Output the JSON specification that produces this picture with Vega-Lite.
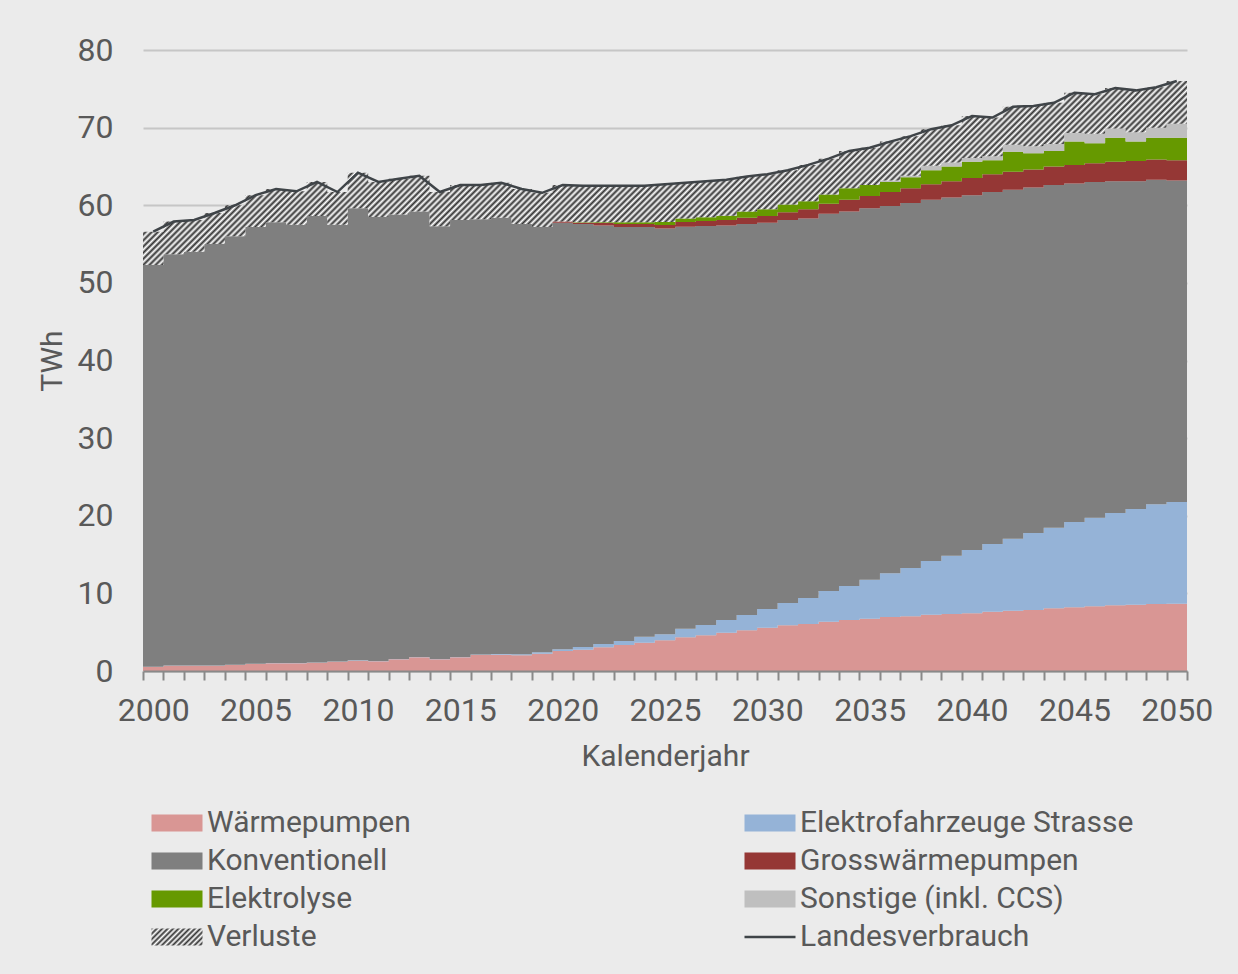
{
"$schema":"https://vega.github.io/schema/vega-lite/v6.json",
"width":1044,"height":621,
"autosize":{"type":"none"},
"padding":{"left":143,"top":50,"right":51,"bottom":303},
"background":"#ebebeb",
"datasets":{
"jahre":[
{"Jahr":2000,"WP":0.52,"EF":0.03,"KV":51.75,"GWP":0,"EL":0,"SO":0,"VL":4.3,"LV":56.6},
{"Jahr":2001,"WP":0.69,"EF":0.03,"KV":52.98,"GWP":0,"EL":0,"SO":0,"VL":4.2,"LV":57.9},
{"Jahr":2002,"WP":0.69,"EF":0.03,"KV":53.28,"GWP":0,"EL":0,"SO":0,"VL":4.1,"LV":58.1},
{"Jahr":2003,"WP":0.69,"EF":0.03,"KV":54.28,"GWP":0,"EL":0,"SO":0,"VL":4.0,"LV":59.0},
{"Jahr":2004,"WP":0.77,"EF":0.03,"KV":55.2,"GWP":0,"EL":0,"SO":0,"VL":4.0,"LV":60.0},
{"Jahr":2005,"WP":0.9,"EF":0.03,"KV":56.27,"GWP":0,"EL":0,"SO":0,"VL":4.1,"LV":61.3},
{"Jahr":2006,"WP":0.99,"EF":0.03,"KV":56.78,"GWP":0,"EL":0,"SO":0,"VL":4.3,"LV":62.1},
{"Jahr":2007,"WP":0.99,"EF":0.03,"KV":56.48,"GWP":0,"EL":0,"SO":0,"VL":4.3,"LV":61.8},
{"Jahr":2008,"WP":1.07,"EF":0.03,"KV":57.5,"GWP":0,"EL":0,"SO":0,"VL":4.4,"LV":63.0},
{"Jahr":2009,"WP":1.2,"EF":0.03,"KV":56.27,"GWP":0,"EL":0,"SO":0,"VL":4.2,"LV":61.7},
{"Jahr":2010,"WP":1.33,"EF":0.05,"KV":58.22,"GWP":0,"EL":0,"SO":0,"VL":4.6,"LV":64.2},
{"Jahr":2011,"WP":1.25,"EF":0.05,"KV":57.2,"GWP":0,"EL":0,"SO":0,"VL":4.5,"LV":63.0},
{"Jahr":2012,"WP":1.5,"EF":0.05,"KV":57.25,"GWP":0,"EL":0,"SO":0,"VL":4.6,"LV":63.4},
{"Jahr":2013,"WP":1.76,"EF":0.05,"KV":57.39,"GWP":0,"EL":0,"SO":0,"VL":4.6,"LV":63.8},
{"Jahr":2014,"WP":1.5,"EF":0.05,"KV":55.75,"GWP":0,"EL":0,"SO":0,"VL":4.4,"LV":61.7},
{"Jahr":2015,"WP":1.76,"EF":0.05,"KV":56.29,"GWP":0,"EL":0,"SO":0,"VL":4.5,"LV":62.6},
{"Jahr":2016,"WP":2.06,"EF":0.05,"KV":56.09,"GWP":0,"EL":0,"SO":0,"VL":4.4,"LV":62.6},
{"Jahr":2017,"WP":2.1,"EF":0.1,"KV":56.2,"GWP":0,"EL":0,"SO":0,"VL":4.5,"LV":62.9},
{"Jahr":2018,"WP":2.02,"EF":0.15,"KV":55.43,"GWP":0,"EL":0,"SO":0,"VL":4.5,"LV":62.1},
{"Jahr":2019,"WP":2.23,"EF":0.2,"KV":54.77,"GWP":0,"EL":0,"SO":0,"VL":4.4,"LV":61.6},
{"Jahr":2020,"WP":2.58,"EF":0.22,"KV":54.95,"GWP":0.15,"EL":0,"SO":0,"VL":4.7,"LV":62.6},
{"Jahr":2021,"WP":2.75,"EF":0.34,"KV":54.51,"GWP":0.15,"EL":0.05,"SO":0,"VL":4.7,"LV":62.5},
{"Jahr":2022,"WP":3.05,"EF":0.43,"KV":53.92,"GWP":0.3,"EL":0.1,"SO":0,"VL":4.7,"LV":62.5},
{"Jahr":2023,"WP":3.35,"EF":0.51,"KV":53.34,"GWP":0.4,"EL":0.2,"SO":0,"VL":4.7,"LV":62.5},
{"Jahr":2024,"WP":3.65,"EF":0.75,"KV":52.8,"GWP":0.4,"EL":0.2,"SO":0,"VL":4.7,"LV":62.5},
{"Jahr":2025,"WP":3.95,"EF":0.8,"KV":52.25,"GWP":0.45,"EL":0.4,"SO":0,"VL":4.85,"LV":62.7},
{"Jahr":2026,"WP":4.34,"EF":1.11,"KV":51.79,"GWP":0.6,"EL":0.46,"SO":0,"VL":4.6,"LV":62.9},
{"Jahr":2027,"WP":4.59,"EF":1.34,"KV":51.4,"GWP":0.64,"EL":0.48,"SO":0,"VL":4.65,"LV":63.1},
{"Jahr":2028,"WP":4.94,"EF":1.63,"KV":50.83,"GWP":0.7,"EL":0.56,"SO":0,"VL":4.64,"LV":63.3},
{"Jahr":2029,"WP":5.24,"EF":1.97,"KV":50.39,"GWP":0.8,"EL":0.8,"SO":0,"VL":4.5,"LV":63.7},
{"Jahr":2030,"WP":5.58,"EF":2.41,"KV":49.76,"GWP":0.85,"EL":0.9,"SO":0,"VL":4.5,"LV":64.0},
{"Jahr":2031,"WP":5.88,"EF":2.88,"KV":49.34,"GWP":1.0,"EL":1.0,"SO":0,"VL":4.4,"LV":64.5},
{"Jahr":2032,"WP":6.05,"EF":3.35,"KV":48.9,"GWP":1.2,"EL":1.0,"SO":0,"VL":4.7,"LV":65.2},
{"Jahr":2033,"WP":6.35,"EF":3.95,"KV":48.6,"GWP":1.3,"EL":1.2,"SO":0,"VL":4.6,"LV":66.0},
{"Jahr":2034,"WP":6.57,"EF":4.38,"KV":48.25,"GWP":1.5,"EL":1.5,"SO":0,"VL":4.8,"LV":67.0},
{"Jahr":2035,"WP":6.74,"EF":5.02,"KV":47.84,"GWP":1.6,"EL":1.4,"SO":0,"VL":4.8,"LV":67.4},
{"Jahr":2036,"WP":6.96,"EF":5.62,"KV":47.32,"GWP":1.8,"EL":1.3,"SO":0.2,"VL":5.0,"LV":68.2},
{"Jahr":2037,"WP":7.04,"EF":6.23,"KV":47.03,"GWP":1.9,"EL":1.4,"SO":0.2,"VL":5.1,"LV":68.9},
{"Jahr":2038,"WP":7.26,"EF":6.91,"KV":46.53,"GWP":2.0,"EL":1.8,"SO":0.6,"VL":4.7,"LV":69.8},
{"Jahr":2039,"WP":7.34,"EF":7.52,"KV":46.14,"GWP":2.1,"EL":1.9,"SO":0.5,"VL":4.8,"LV":70.3},
{"Jahr":2040,"WP":7.43,"EF":8.16,"KV":45.71,"GWP":2.2,"EL":2.1,"SO":0.5,"VL":5.4,"LV":71.5},
{"Jahr":2041,"WP":7.64,"EF":8.72,"KV":45.34,"GWP":2.3,"EL":1.8,"SO":0.5,"VL":5.0,"LV":71.3},
{"Jahr":2042,"WP":7.77,"EF":9.28,"KV":44.95,"GWP":2.3,"EL":2.6,"SO":0.9,"VL":4.9,"LV":72.7},
{"Jahr":2043,"WP":7.86,"EF":9.92,"KV":44.52,"GWP":2.3,"EL":2.1,"SO":0.9,"VL":5.2,"LV":72.8},
{"Jahr":2044,"WP":8.07,"EF":10.39,"KV":44.14,"GWP":2.4,"EL":2.0,"SO":0.9,"VL":5.3,"LV":73.2},
{"Jahr":2045,"WP":8.2,"EF":10.99,"KV":43.61,"GWP":2.4,"EL":3.0,"SO":1.1,"VL":5.2,"LV":74.5},
{"Jahr":2046,"WP":8.33,"EF":11.42,"KV":43.25,"GWP":2.4,"EL":2.6,"SO":1.2,"VL":5.1,"LV":74.3},
{"Jahr":2047,"WP":8.46,"EF":11.89,"KV":42.75,"GWP":2.5,"EL":3.1,"SO":1.2,"VL":5.2,"LV":75.1},
{"Jahr":2048,"WP":8.54,"EF":12.33,"KV":42.23,"GWP":2.6,"EL":2.5,"SO":1.2,"VL":5.4,"LV":74.8},
{"Jahr":2049,"WP":8.63,"EF":12.84,"KV":41.83,"GWP":2.6,"EL":2.8,"SO":1.3,"VL":5.2,"LV":75.2},
{"Jahr":2050,"WP":8.67,"EF":13.1,"KV":41.43,"GWP":2.6,"EL":2.9,"SO":1.8,"VL":5.5,"LV":76.0}
],
"serien":[
{"key":"WP","rang":1,"name":"Wärmepumpen"},
{"key":"EF","rang":2,"name":"Elektrofahrzeuge Strasse"},
{"key":"KV","rang":3,"name":"Konventionell"},
{"key":"GWP","rang":4,"name":"Grosswärmepumpen"},
{"key":"EL","rang":5,"name":"Elektrolyse"},
{"key":"SO","rang":6,"name":"Sonstige (inkl. CCS)"},
{"key":"VL","rang":7,"name":"Verluste"}
]
},
"data":{"name":"jahre"},
"layer":[
{
"transform":[
{"fold":["WP","EF","KV","GWP","EL","SO","VL"],"as":["key","wert"]},
{"lookup":"key","from":{"data":{"name":"serien"},"key":"key","fields":["rang","name"]}},
{"stack":"wert","groupby":["Jahr"],"sort":[{"field":"rang","order":"ascending"}],"as":["y0","y1"]},
{"bin":{"step":1,"extent":[2000,2051]},"field":"Jahr","as":["xa","xb"]},
{"fold":["xa","xb"],"as":["kante","x"]}
],
"layer":[
{
"transform":[{"filter":"datum.name !== 'Verluste'"}],
"mark":{"type":"area","interpolate":"linear"},
"encoding":{
"x":{"field":"x","type":"quantitative","title":"Kalenderjahr","scale":{"domain":[2000,2051],"nice":false,"zero":false},
"axis":{"values":[2000,2001,2002,2003,2004,2005,2006,2007,2008,2009,2010,2011,2012,2013,2014,2015,2016,2017,2018,2019,2020,2021,2022,2023,2024,2025,2026,2027,2028,2029,2030,2031,2032,2033,2034,2035,2036,2037,2038,2039,2040,2041,2042,2043,2044,2045,2046,2047,2048,2049,2050,2051],
"format":"d","labelExpr":"datum.value % 5 === 0 ? datum.label : ''","labelOffset":10.24,"labelOverlap":false,"labelFlush":false,"labelBound":false,
"tickSize":9,"tickColor":"#898989","tickWidth":2,"domainColor":"#898989","domainWidth":2,"labelPadding":15,"titlePadding":15,"grid":false,"zindex":1,"labelFontSize":32,"titleFontSize":30}},
"y":{"field":"y1","type":"quantitative","title":"TWh","stack":null,"scale":{"domain":[0,80],"nice":false},
"axis":{"values":[0,10,20,30,40,50,60,70,80],"grid":true,"gridColor":"#c6c6c6","gridWidth":2,"domain":false,"ticks":false,"tickSize":0,"labelPadding":30,"titlePadding":10,"labelFontSize":32,"titleFontSize":30}},
"y2":{"field":"y0"},
"order":[{"field":"x","type":"quantitative"},{"field":"kante","type":"ordinal","sort":"descending"}],
"color":{"field":"name","type":"nominal",
"scale":{"domain":["Wärmepumpen","Elektrofahrzeuge Strasse","Konventionell","Grosswärmepumpen","Elektrolyse","Sonstige (inkl. CCS)","Verluste","Landesverbrauch"],
"range":["#d99694","#95b3d7","#7f7f7f","#953735","#669900","#bfbfbf",
{"expr":"{gradient:'linear',x1:0,y1:0,x2:1.2,y2:0.4,stops:[{offset:0,color:'#333'},{offset:0.04,color:'#fff'},{offset:0.08,color:'#333'},{offset:0.12,color:'#fff'},{offset:0.16,color:'#333'},{offset:0.2,color:'#fff'},{offset:0.24,color:'#333'},{offset:0.28,color:'#fff'},{offset:0.32,color:'#333'},{offset:0.36,color:'#fff'},{offset:0.4,color:'#333'},{offset:0.44,color:'#fff'},{offset:0.48,color:'#333'},{offset:0.52,color:'#fff'},{offset:0.56,color:'#333'},{offset:0.6,color:'#fff'},{offset:0.64,color:'#333'},{offset:0.68,color:'#fff'},{offset:0.72,color:'#333'},{offset:0.76,color:'#fff'},{offset:0.8,color:'#333'},{offset:0.84,color:'#fff'},{offset:0.88,color:'#333'},{offset:0.92,color:'#fff'},{offset:0.96,color:'#333'},{offset:1,color:'#fff'}]}"},
"#3f4448"]},
"legend":{"orient":"none","direction":"horizontal","legendX":19,"legendY":758,"columns":2,"columnPadding":328,"rowPadding":8,"title":null,"padding":0,
"symbolSize":289,"symbolType":"M-3,-1H3V1H-3Z","symbolStrokeWidth":2.5,"labelFontSize":30,"labelColor":"#595959","labelOffset":15,"labelLimit":600,
"encode":{"symbols":{"update":{
"shape":[{"test":"datum.value === 'Landesverbrauch'","value":"M-3,0H3"},{"value":"M-3,-1H3V1H-3Z"}],
"stroke":[{"test":"datum.value === 'Landesverbrauch'","value":"#3f4448"},{"value":"transparent"}],
"strokeWidth":{"value":2.5},
"opacity":{"value":1}
}}}}}
}
},
{
"transform":[{"filter":"datum.name === 'Verluste'"}],
"mark":{"type":"area","interpolate":"linear","color":{"gradient":"linear","x1":0,"y1":0,"x2":1.1408,"y2":0.201,"stops":[
{"offset":0,"color":"#333"},{"offset":0.0025,"color":"#fff"},{"offset":0.005,"color":"#333"},{"offset":0.0075,"color":"#fff"},
{"offset":0.01,"color":"#333"},{"offset":0.0125,"color":"#fff"},{"offset":0.015,"color":"#333"},{"offset":0.0175,"color":"#fff"},
{"offset":0.02,"color":"#333"},{"offset":0.0225,"color":"#fff"},{"offset":0.025,"color":"#333"},{"offset":0.0275,"color":"#fff"},
{"offset":0.03,"color":"#333"},{"offset":0.0325,"color":"#fff"},{"offset":0.035,"color":"#333"},{"offset":0.0375,"color":"#fff"},
{"offset":0.04,"color":"#333"},{"offset":0.0425,"color":"#fff"},{"offset":0.045,"color":"#333"},{"offset":0.0475,"color":"#fff"},
{"offset":0.05,"color":"#333"},{"offset":0.0525,"color":"#fff"},{"offset":0.055,"color":"#333"},{"offset":0.0575,"color":"#fff"},
{"offset":0.06,"color":"#333"},{"offset":0.0625,"color":"#fff"},{"offset":0.065,"color":"#333"},{"offset":0.0675,"color":"#fff"},
{"offset":0.07,"color":"#333"},{"offset":0.0725,"color":"#fff"},{"offset":0.075,"color":"#333"},{"offset":0.0775,"color":"#fff"},
{"offset":0.08,"color":"#333"},{"offset":0.0825,"color":"#fff"},{"offset":0.085,"color":"#333"},{"offset":0.0875,"color":"#fff"},
{"offset":0.09,"color":"#333"},{"offset":0.0925,"color":"#fff"},{"offset":0.095,"color":"#333"},{"offset":0.0975,"color":"#fff"},
{"offset":0.1,"color":"#333"},{"offset":0.1025,"color":"#fff"},{"offset":0.105,"color":"#333"},{"offset":0.1075,"color":"#fff"},
{"offset":0.11,"color":"#333"},{"offset":0.1125,"color":"#fff"},{"offset":0.115,"color":"#333"},{"offset":0.1175,"color":"#fff"},
{"offset":0.12,"color":"#333"},{"offset":0.1225,"color":"#fff"},{"offset":0.125,"color":"#333"},{"offset":0.1275,"color":"#fff"},
{"offset":0.13,"color":"#333"},{"offset":0.1325,"color":"#fff"},{"offset":0.135,"color":"#333"},{"offset":0.1375,"color":"#fff"},
{"offset":0.14,"color":"#333"},{"offset":0.1425,"color":"#fff"},{"offset":0.145,"color":"#333"},{"offset":0.1475,"color":"#fff"},
{"offset":0.15,"color":"#333"},{"offset":0.1525,"color":"#fff"},{"offset":0.155,"color":"#333"},{"offset":0.1575,"color":"#fff"},
{"offset":0.16,"color":"#333"},{"offset":0.1625,"color":"#fff"},{"offset":0.165,"color":"#333"},{"offset":0.1675,"color":"#fff"},
{"offset":0.17,"color":"#333"},{"offset":0.1725,"color":"#fff"},{"offset":0.175,"color":"#333"},{"offset":0.1775,"color":"#fff"},
{"offset":0.18,"color":"#333"},{"offset":0.1825,"color":"#fff"},{"offset":0.185,"color":"#333"},{"offset":0.1875,"color":"#fff"},
{"offset":0.19,"color":"#333"},{"offset":0.1925,"color":"#fff"},{"offset":0.195,"color":"#333"},{"offset":0.1975,"color":"#fff"},
{"offset":0.2,"color":"#333"},{"offset":0.2025,"color":"#fff"},{"offset":0.205,"color":"#333"},{"offset":0.2075,"color":"#fff"},
{"offset":0.21,"color":"#333"},{"offset":0.2125,"color":"#fff"},{"offset":0.215,"color":"#333"},{"offset":0.2175,"color":"#fff"},
{"offset":0.22,"color":"#333"},{"offset":0.2225,"color":"#fff"},{"offset":0.225,"color":"#333"},{"offset":0.2275,"color":"#fff"},
{"offset":0.23,"color":"#333"},{"offset":0.2325,"color":"#fff"},{"offset":0.235,"color":"#333"},{"offset":0.2375,"color":"#fff"},
{"offset":0.24,"color":"#333"},{"offset":0.2425,"color":"#fff"},{"offset":0.245,"color":"#333"},{"offset":0.2475,"color":"#fff"},
{"offset":0.25,"color":"#333"},{"offset":0.2525,"color":"#fff"},{"offset":0.255,"color":"#333"},{"offset":0.2575,"color":"#fff"},
{"offset":0.26,"color":"#333"},{"offset":0.2625,"color":"#fff"},{"offset":0.265,"color":"#333"},{"offset":0.2675,"color":"#fff"},
{"offset":0.27,"color":"#333"},{"offset":0.2725,"color":"#fff"},{"offset":0.275,"color":"#333"},{"offset":0.2775,"color":"#fff"},
{"offset":0.28,"color":"#333"},{"offset":0.2825,"color":"#fff"},{"offset":0.285,"color":"#333"},{"offset":0.2875,"color":"#fff"},
{"offset":0.29,"color":"#333"},{"offset":0.2925,"color":"#fff"},{"offset":0.295,"color":"#333"},{"offset":0.2975,"color":"#fff"},
{"offset":0.3,"color":"#333"},{"offset":0.3025,"color":"#fff"},{"offset":0.305,"color":"#333"},{"offset":0.3075,"color":"#fff"},
{"offset":0.31,"color":"#333"},{"offset":0.3125,"color":"#fff"},{"offset":0.315,"color":"#333"},{"offset":0.3175,"color":"#fff"},
{"offset":0.32,"color":"#333"},{"offset":0.3225,"color":"#fff"},{"offset":0.325,"color":"#333"},{"offset":0.3275,"color":"#fff"},
{"offset":0.33,"color":"#333"},{"offset":0.3325,"color":"#fff"},{"offset":0.335,"color":"#333"},{"offset":0.3375,"color":"#fff"},
{"offset":0.34,"color":"#333"},{"offset":0.3425,"color":"#fff"},{"offset":0.345,"color":"#333"},{"offset":0.3475,"color":"#fff"},
{"offset":0.35,"color":"#333"},{"offset":0.3525,"color":"#fff"},{"offset":0.355,"color":"#333"},{"offset":0.3575,"color":"#fff"},
{"offset":0.36,"color":"#333"},{"offset":0.3625,"color":"#fff"},{"offset":0.365,"color":"#333"},{"offset":0.3675,"color":"#fff"},
{"offset":0.37,"color":"#333"},{"offset":0.3725,"color":"#fff"},{"offset":0.375,"color":"#333"},{"offset":0.3775,"color":"#fff"},
{"offset":0.38,"color":"#333"},{"offset":0.3825,"color":"#fff"},{"offset":0.385,"color":"#333"},{"offset":0.3875,"color":"#fff"},
{"offset":0.39,"color":"#333"},{"offset":0.3925,"color":"#fff"},{"offset":0.395,"color":"#333"},{"offset":0.3975,"color":"#fff"},
{"offset":0.4,"color":"#333"},{"offset":0.4025,"color":"#fff"},{"offset":0.405,"color":"#333"},{"offset":0.4075,"color":"#fff"},
{"offset":0.41,"color":"#333"},{"offset":0.4125,"color":"#fff"},{"offset":0.415,"color":"#333"},{"offset":0.4175,"color":"#fff"},
{"offset":0.42,"color":"#333"},{"offset":0.4225,"color":"#fff"},{"offset":0.425,"color":"#333"},{"offset":0.4275,"color":"#fff"},
{"offset":0.43,"color":"#333"},{"offset":0.4325,"color":"#fff"},{"offset":0.435,"color":"#333"},{"offset":0.4375,"color":"#fff"},
{"offset":0.44,"color":"#333"},{"offset":0.4425,"color":"#fff"},{"offset":0.445,"color":"#333"},{"offset":0.4475,"color":"#fff"},
{"offset":0.45,"color":"#333"},{"offset":0.4525,"color":"#fff"},{"offset":0.455,"color":"#333"},{"offset":0.4575,"color":"#fff"},
{"offset":0.46,"color":"#333"},{"offset":0.4625,"color":"#fff"},{"offset":0.465,"color":"#333"},{"offset":0.4675,"color":"#fff"},
{"offset":0.47,"color":"#333"},{"offset":0.4725,"color":"#fff"},{"offset":0.475,"color":"#333"},{"offset":0.4775,"color":"#fff"},
{"offset":0.48,"color":"#333"},{"offset":0.4825,"color":"#fff"},{"offset":0.485,"color":"#333"},{"offset":0.4875,"color":"#fff"},
{"offset":0.49,"color":"#333"},{"offset":0.4925,"color":"#fff"},{"offset":0.495,"color":"#333"},{"offset":0.4975,"color":"#fff"},
{"offset":0.5,"color":"#333"},{"offset":0.5025,"color":"#fff"},{"offset":0.505,"color":"#333"},{"offset":0.5075,"color":"#fff"},
{"offset":0.51,"color":"#333"},{"offset":0.5125,"color":"#fff"},{"offset":0.515,"color":"#333"},{"offset":0.5175,"color":"#fff"},
{"offset":0.52,"color":"#333"},{"offset":0.5225,"color":"#fff"},{"offset":0.525,"color":"#333"},{"offset":0.5275,"color":"#fff"},
{"offset":0.53,"color":"#333"},{"offset":0.5325,"color":"#fff"},{"offset":0.535,"color":"#333"},{"offset":0.5375,"color":"#fff"},
{"offset":0.54,"color":"#333"},{"offset":0.5425,"color":"#fff"},{"offset":0.545,"color":"#333"},{"offset":0.5475,"color":"#fff"},
{"offset":0.55,"color":"#333"},{"offset":0.5525,"color":"#fff"},{"offset":0.555,"color":"#333"},{"offset":0.5575,"color":"#fff"},
{"offset":0.56,"color":"#333"},{"offset":0.5625,"color":"#fff"},{"offset":0.565,"color":"#333"},{"offset":0.5675,"color":"#fff"},
{"offset":0.57,"color":"#333"},{"offset":0.5725,"color":"#fff"},{"offset":0.575,"color":"#333"},{"offset":0.5775,"color":"#fff"},
{"offset":0.58,"color":"#333"},{"offset":0.5825,"color":"#fff"},{"offset":0.585,"color":"#333"},{"offset":0.5875,"color":"#fff"},
{"offset":0.59,"color":"#333"},{"offset":0.5925,"color":"#fff"},{"offset":0.595,"color":"#333"},{"offset":0.5975,"color":"#fff"},
{"offset":0.6,"color":"#333"},{"offset":0.6025,"color":"#fff"},{"offset":0.605,"color":"#333"},{"offset":0.6075,"color":"#fff"},
{"offset":0.61,"color":"#333"},{"offset":0.6125,"color":"#fff"},{"offset":0.615,"color":"#333"},{"offset":0.6175,"color":"#fff"},
{"offset":0.62,"color":"#333"},{"offset":0.6225,"color":"#fff"},{"offset":0.625,"color":"#333"},{"offset":0.6275,"color":"#fff"},
{"offset":0.63,"color":"#333"},{"offset":0.6325,"color":"#fff"},{"offset":0.635,"color":"#333"},{"offset":0.6375,"color":"#fff"},
{"offset":0.64,"color":"#333"},{"offset":0.6425,"color":"#fff"},{"offset":0.645,"color":"#333"},{"offset":0.6475,"color":"#fff"},
{"offset":0.65,"color":"#333"},{"offset":0.6525,"color":"#fff"},{"offset":0.655,"color":"#333"},{"offset":0.6575,"color":"#fff"},
{"offset":0.66,"color":"#333"},{"offset":0.6625,"color":"#fff"},{"offset":0.665,"color":"#333"},{"offset":0.6675,"color":"#fff"},
{"offset":0.67,"color":"#333"},{"offset":0.6725,"color":"#fff"},{"offset":0.675,"color":"#333"},{"offset":0.6775,"color":"#fff"},
{"offset":0.68,"color":"#333"},{"offset":0.6825,"color":"#fff"},{"offset":0.685,"color":"#333"},{"offset":0.6875,"color":"#fff"},
{"offset":0.69,"color":"#333"},{"offset":0.6925,"color":"#fff"},{"offset":0.695,"color":"#333"},{"offset":0.6975,"color":"#fff"},
{"offset":0.7,"color":"#333"},{"offset":0.7025,"color":"#fff"},{"offset":0.705,"color":"#333"},{"offset":0.7075,"color":"#fff"},
{"offset":0.71,"color":"#333"},{"offset":0.7125,"color":"#fff"},{"offset":0.715,"color":"#333"},{"offset":0.7175,"color":"#fff"},
{"offset":0.72,"color":"#333"},{"offset":0.7225,"color":"#fff"},{"offset":0.725,"color":"#333"},{"offset":0.7275,"color":"#fff"},
{"offset":0.73,"color":"#333"},{"offset":0.7325,"color":"#fff"},{"offset":0.735,"color":"#333"},{"offset":0.7375,"color":"#fff"},
{"offset":0.74,"color":"#333"},{"offset":0.7425,"color":"#fff"},{"offset":0.745,"color":"#333"},{"offset":0.7475,"color":"#fff"},
{"offset":0.75,"color":"#333"},{"offset":0.7525,"color":"#fff"},{"offset":0.755,"color":"#333"},{"offset":0.7575,"color":"#fff"},
{"offset":0.76,"color":"#333"},{"offset":0.7625,"color":"#fff"},{"offset":0.765,"color":"#333"},{"offset":0.7675,"color":"#fff"},
{"offset":0.77,"color":"#333"},{"offset":0.7725,"color":"#fff"},{"offset":0.775,"color":"#333"},{"offset":0.7775,"color":"#fff"},
{"offset":0.78,"color":"#333"},{"offset":0.7825,"color":"#fff"},{"offset":0.785,"color":"#333"},{"offset":0.7875,"color":"#fff"},
{"offset":0.79,"color":"#333"},{"offset":0.7925,"color":"#fff"},{"offset":0.795,"color":"#333"},{"offset":0.7975,"color":"#fff"},
{"offset":0.8,"color":"#333"},{"offset":0.8025,"color":"#fff"},{"offset":0.805,"color":"#333"},{"offset":0.8075,"color":"#fff"},
{"offset":0.81,"color":"#333"},{"offset":0.8125,"color":"#fff"},{"offset":0.815,"color":"#333"},{"offset":0.8175,"color":"#fff"},
{"offset":0.82,"color":"#333"},{"offset":0.8225,"color":"#fff"},{"offset":0.825,"color":"#333"},{"offset":0.8275,"color":"#fff"},
{"offset":0.83,"color":"#333"},{"offset":0.8325,"color":"#fff"},{"offset":0.835,"color":"#333"},{"offset":0.8375,"color":"#fff"},
{"offset":0.84,"color":"#333"},{"offset":0.8425,"color":"#fff"},{"offset":0.845,"color":"#333"},{"offset":0.8475,"color":"#fff"},
{"offset":0.85,"color":"#333"},{"offset":0.8525,"color":"#fff"},{"offset":0.855,"color":"#333"},{"offset":0.8575,"color":"#fff"},
{"offset":0.86,"color":"#333"},{"offset":0.8625,"color":"#fff"},{"offset":0.865,"color":"#333"},{"offset":0.8675,"color":"#fff"},
{"offset":0.87,"color":"#333"},{"offset":0.8725,"color":"#fff"},{"offset":0.875,"color":"#333"},{"offset":0.8775,"color":"#fff"},
{"offset":0.88,"color":"#333"},{"offset":0.8825,"color":"#fff"},{"offset":0.885,"color":"#333"},{"offset":0.8875,"color":"#fff"},
{"offset":0.89,"color":"#333"},{"offset":0.8925,"color":"#fff"},{"offset":0.895,"color":"#333"},{"offset":0.8975,"color":"#fff"},
{"offset":0.9,"color":"#333"},{"offset":0.9025,"color":"#fff"},{"offset":0.905,"color":"#333"},{"offset":0.9075,"color":"#fff"},
{"offset":0.91,"color":"#333"},{"offset":0.9125,"color":"#fff"},{"offset":0.915,"color":"#333"},{"offset":0.9175,"color":"#fff"},
{"offset":0.92,"color":"#333"},{"offset":0.9225,"color":"#fff"},{"offset":0.925,"color":"#333"},{"offset":0.9275,"color":"#fff"},
{"offset":0.93,"color":"#333"},{"offset":0.9325,"color":"#fff"},{"offset":0.935,"color":"#333"},{"offset":0.9375,"color":"#fff"},
{"offset":0.94,"color":"#333"},{"offset":0.9425,"color":"#fff"},{"offset":0.945,"color":"#333"},{"offset":0.9475,"color":"#fff"},
{"offset":0.95,"color":"#333"},{"offset":0.9525,"color":"#fff"},{"offset":0.955,"color":"#333"},{"offset":0.9575,"color":"#fff"},
{"offset":0.96,"color":"#333"},{"offset":0.9625,"color":"#fff"},{"offset":0.965,"color":"#333"},{"offset":0.9675,"color":"#fff"},
{"offset":0.97,"color":"#333"},{"offset":0.9725,"color":"#fff"},{"offset":0.975,"color":"#333"},{"offset":0.9775,"color":"#fff"},
{"offset":0.98,"color":"#333"},{"offset":0.9825,"color":"#fff"},{"offset":0.985,"color":"#333"},{"offset":0.9875,"color":"#fff"},
{"offset":0.99,"color":"#333"},{"offset":0.9925,"color":"#fff"},{"offset":0.995,"color":"#333"},{"offset":0.9975,"color":"#fff"},
{"offset":1,"color":"#333"}
]}},
"encoding":{
"x":{"field":"x","type":"quantitative","title":"Kalenderjahr"},
"y":{"field":"y1","type":"quantitative","title":"TWh","stack":null},
"y2":{"field":"y0"},
"order":[{"field":"x","type":"quantitative"},{"field":"kante","type":"ordinal","sort":"descending"}]
}
}
]
},
{
"mark":{"type":"line","color":"#3f4448","strokeWidth":2.5},
"encoding":{
"x":{"field":"Jahr","type":"quantitative","title":"Kalenderjahr","bin":{"step":1,"extent":[2000,2051]},"bandPosition":0.5},
"y":{"field":"LV","type":"quantitative","title":"TWh"}
}
}
],
"config":{
"font":"Roboto",
"view":{"stroke":null},
"axis":{"labelColor":"#595959","titleColor":"#595959","titleFontWeight":"normal","labelFont":"Roboto","titleFont":"Roboto"},
"legend":{"labelFont":"Roboto"}
}
}
